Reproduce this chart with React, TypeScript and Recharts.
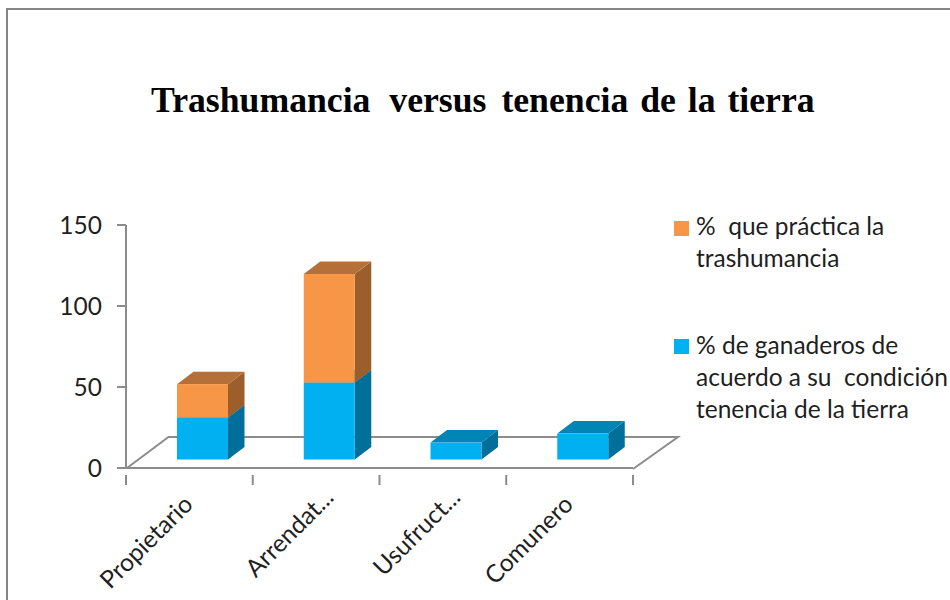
import React from "react";
import { BarChart, Bar, XAxis, YAxis, Legend } from "recharts";

const categories = ["Propietario", "Arrendat...", "Usufruct...", "Comunero"];
const ganaderos = [26, 47.5, 10.5, 16];
const trashumancia = [20.5, 67, 0, 0];
const yTicks = [0, 50, 100, 150];
const titleParts = ["Trashumancia  ", "versus ", "tenencia de la tierra"];
const titleSpacing = [0.5, 6, 3];
const seriesGanaderos = "% de ganaderos de acuerdo a su  condición tenencia de la tierra";
const seriesTrashumancia = "%  que práctica la trashumancia";

const rows = categories.map((name, i) => ({
  name,
  ganaderos: ganaderos[i],
  trashumancia: trashumancia[i],
}));

const AXIS = "#8c8c8c";
const TEXT = "#1f1f1f";
const FONT = "Lato, 'Open Sans', sans-serif";
const DX = 16.5;
const DY = -12.5;
const SHIFT_X = 13;
const SHIFT_Y = -8.5;
const BAND = 126.75;

const makeShape = (front: string, side: string, top: string) => (p: any) => {
  const { x, y, width: w, height: h } = p;
  if (!h || h <= 0) return <g />;
  const X = x + SHIFT_X;
  const Y = y + SHIFT_Y;
  return (
    <g>
      <polygon points={`${X + w},${Y} ${X + w + DX},${Y + DY} ${X + w + DX},${Y + h + DY} ${X + w},${Y + h}`} fill={side} />
      <polygon points={`${X},${Y} ${X + DX},${Y + DY} ${X + w + DX},${Y + DY} ${X + w},${Y}`} fill={top} />
      <rect x={X} y={Y} width={w} height={h} fill={front} />
    </g>
  );
};

const XTick = (p: any) => {
  const { x, y, payload, index } = p;
  const left = x - BAND / 2;
  const right = x + BAND / 2;
  const cut = String(payload.value).endsWith("...");
  const tx = x + 5 + (cut ? 14 : 0);
  const ty = y + 30 - (cut ? 7 : 0);
  return (
    <g>
      <line x1={left} x2={left} y1={y - 1} y2={y + 9} stroke={AXIS} strokeWidth={2} />
      {index === categories.length - 1 && (
        <line x1={right} x2={right} y1={y - 1} y2={y + 9} stroke={AXIS} strokeWidth={2} />
      )}
      <text
        x={tx}
        y={ty}
        textAnchor="end"
        fontFamily={FONT}
        fontSize={24.5}
        fill={TEXT}
        transform={`rotate(-45 ${tx} ${ty})`}
      >
        {payload.value}
      </text>
    </g>
  );
};

const Floor = () => (
  <polyline
    points="127,468 168.5,437 678,437 633,469"
    fill="none"
    stroke={AXIS}
    strokeWidth={2}
  />
);

const LegendBox = (p: any) => {
  const items = [...(p.payload || [])];
  const gaps = [0, 118.5];
  return (
    <div style={{ position: "absolute", left: 0, top: 0, fontFamily: FONT, fontSize: 24.5, lineHeight: "32px", color: TEXT }}>
      {items.map((it: any, i: number) => (
        <div key={it.value} style={{ position: "absolute", left: 0, top: gaps[i], width: 276 }}>
          <span style={{ position: "absolute", left: 0, top: 10.5, width: 15, height: 15, background: it.color }} />
          <div style={{ marginLeft: 22, width: 254, whiteSpace: "pre-wrap" }}>{it.value}</div>
        </div>
      ))}
    </div>
  );
};

export default function App() {
  return (
    <div style={{ position: "absolute", left: 0, top: 0, width: 950, height: 600, overflow: "hidden", background: "#fff" }}>
      <div style={{ position: "absolute", left: 6, top: 8, width: 950, height: 600, borderLeft: "2px solid #868686", borderTop: "2px solid #868686" }} />
      <div
        style={{
          position: "absolute",
          left: 151,
          top: 78,
          whiteSpace: "pre",
          fontFamily: "'Liberation Serif', serif",
          fontWeight: 700,
          fontSize: 35.7,
          lineHeight: "44px",
          color: "#000",
        }}
      >
        {titleParts.map((part, i) => (
          <span key={part} style={{ wordSpacing: titleSpacing[i] }}>{part}</span>
        ))}
      </div>
      <BarChart
        width={950}
        height={600}
        data={rows}
        margin={{ left: 66, right: 317, top: 225, bottom: 72 }}
        barSize={51}
        style={{ position: "absolute", left: 0, top: 0 }}
      >
        <Floor />
        <XAxis
          dataKey="name"
          height={60}
          interval={0}
          axisLine={{ stroke: AXIS, strokeWidth: 2 }}
          tickLine={false}
          tick={<XTick />}
        />
        <YAxis
          width={60}
          domain={[0, 150]}
          ticks={yTicks}
          axisLine={{ stroke: AXIS, strokeWidth: 2 }}
          tickLine={{ stroke: AXIS, strokeWidth: 2 }}
          tickSize={9}
          tickMargin={15}
          tick={{ fontFamily: FONT, fontSize: 24.5, fill: TEXT }}
        />
        <Bar
          dataKey="ganaderos"
          name={seriesGanaderos}
          stackId="a"
          fill="#00B0F0"
          isAnimationActive={false}
          shape={makeShape("#00B0F0", "#00709A", "#0085B5")}
        />
        <Bar
          dataKey="trashumancia"
          name={seriesTrashumancia}
          stackId="a"
          fill="#F79646"
          isAnimationActive={false}
          shape={makeShape("#F79646", "#9C5F2B", "#B5703A")}
        />
        <Legend
          content={<LegendBox />}
          wrapperStyle={{ position: "absolute", left: 674, top: 210, width: 276, height: 0 }}
        />
      </BarChart>
    </div>
  );
}
